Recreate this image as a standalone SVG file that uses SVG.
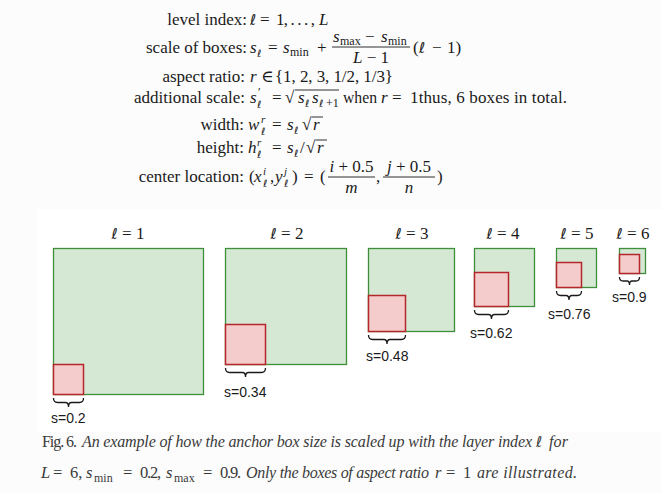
<svg xmlns="http://www.w3.org/2000/svg" width="662" height="493" viewBox="0 0 662 493">
<style>
.t{font-family:"Liberation Serif","DejaVu Serif",serif;font-size:17px;fill:#1a1a1a}
.i{font-style:italic}
.e{font-family:"DejaVu Serif","DejaVu Sans",serif;font-style:italic;font-size:15px}
.es{font-family:"DejaVu Serif","DejaVu Sans",serif;font-style:italic;font-size:10px}
.sub{font-size:12px}
.sup{font-size:11px;font-style:italic}
.cap{font-family:"Liberation Serif","DejaVu Serif",serif;font-size:16px;fill:#3a3a3a}
.cm{font-family:"Liberation Serif","DejaVu Serif",serif;font-size:16.5px;fill:#3a3a3a}
.lbl{font-family:"Liberation Sans",Arial,sans-serif;font-size:14px;fill:#1a1a1a}
.g{fill:#d5e8d4;stroke:#3f8f3a;stroke-width:1.3}
.r{fill:#f5cccc;stroke:#b3262a;stroke-width:1.5}
.br{fill:none;stroke:#1a1a1a;stroke-width:1.3}
.ln{stroke:#1a1a1a;stroke-width:0.9}
</style>
<rect width="662" height="493" fill="#fcfcfc"/>
<rect x="37" y="209" width="625" height="223" fill="#ffffff"/>

<g id="formulas">
<!-- line 1 -->
<text class="t" x="247" y="25" text-anchor="end">level index:</text>
<text class="t" y="25"><tspan x="250" class="e">ℓ</tspan><tspan x="260">=</tspan><tspan x="276" textLength="39" lengthAdjust="spacing">1, . . . ,</tspan><tspan x="319" class="i">L</tspan></text>

<!-- line 2 -->
<text class="t" x="247" y="53" text-anchor="end">scale of boxes:</text>
<text class="t" y="53"><tspan x="250" class="i">s</tspan><tspan x="257" y="57" class="es">ℓ</tspan><tspan x="268" y="53">=</tspan><tspan x="283" class="i">s</tspan><tspan x="290" y="56" class="sub">min</tspan><tspan x="317" y="53">+</tspan></text>
<text class="t" y="42"><tspan x="333" class="i">s</tspan><tspan x="340" y="45" class="sub">max</tspan><tspan x="365" y="42">−</tspan><tspan x="381" class="i">s</tspan><tspan x="388" y="45" class="sub">min</tspan></text>
<line class="ln" x1="332" y1="47" x2="410" y2="47"/>
<text class="t" x="371" y="63" text-anchor="middle"><tspan class="i">L</tspan> − 1</text>
<text class="t" y="53"><tspan x="413">(</tspan><tspan x="419" class="e">ℓ</tspan><tspan x="432">−</tspan><tspan x="447">1)</tspan></text>

<!-- line 3 -->
<text class="t" x="245" y="82" text-anchor="end">aspect ratio:</text>
<text class="t" y="82"><tspan x="250" class="i">r</tspan><tspan x="261">∈</tspan><tspan x="275" textLength="118" lengthAdjust="spacing">{1, 2, 3, 1/2, 1/3}</tspan></text>

<!-- line 4 -->
<text class="t" x="245" y="103" text-anchor="end">additional scale:</text>
<text class="t" y="103"><tspan x="250" class="i">s</tspan><tspan x="258" y="96" class="sub">′</tspan><tspan x="257" y="108" class="es">ℓ</tspan><tspan x="272" y="103">=</tspan><tspan x="285">√</tspan><tspan x="298" class="i">s</tspan><tspan x="305" y="107" class="es">ℓ</tspan><tspan x="312" y="103" class="i">s</tspan><tspan x="319" y="107" class="es">ℓ</tspan><tspan x="326" y="107" class="sub">+1</tspan><tspan x="343" y="103" textLength="34" lengthAdjust="spacingAndGlyphs">when</tspan><tspan x="381" class="i">r</tspan><tspan x="392">=</tspan><tspan x="410" textLength="157" lengthAdjust="spacing">1thus, 6 boxes in total.</tspan></text>
<line class="ln" x1="295" y1="90" x2="339" y2="90"/>

<!-- line 5 -->
<text class="t" x="244" y="130" text-anchor="end">width:</text>
<text class="t" y="130"><tspan x="248" class="i">w</tspan><tspan x="261" y="123" class="sup">r</tspan><tspan x="261" y="135" class="es">ℓ</tspan><tspan x="272" y="130">=</tspan><tspan x="287" class="i">s</tspan><tspan x="294" y="134" class="es">ℓ</tspan><tspan x="302" y="130">√</tspan><tspan x="313" class="i">r</tspan></text>
<line class="ln" x1="311.5" y1="117" x2="323" y2="117"/>

<!-- line 6 -->
<text class="t" x="244" y="153" text-anchor="end">height:</text>
<text class="t" y="153"><tspan x="248" class="i">h</tspan><tspan x="257" y="146" class="sup">r</tspan><tspan x="257" y="158" class="es">ℓ</tspan><tspan x="272" y="153">=</tspan><tspan x="287" class="i">s</tspan><tspan x="294" y="157" class="es">ℓ</tspan><tspan x="300" y="153">/</tspan><tspan x="306">√</tspan><tspan x="317" class="i">r</tspan></text>
<line class="ln" x1="315.5" y1="140" x2="327" y2="140"/>

<!-- line 7 -->
<text class="t" x="244" y="182" text-anchor="end">center location:</text>
<text class="t" y="182"><tspan x="249">(</tspan><tspan x="254" class="i">x</tspan><tspan x="263" y="175" class="sup">i</tspan><tspan x="263" y="187" class="es">ℓ</tspan><tspan x="270" y="182">,</tspan><tspan x="275" class="i">y</tspan><tspan x="284" y="175" class="sup">j</tspan><tspan x="284" y="187" class="es">ℓ</tspan><tspan x="292" y="182">)</tspan><tspan x="304">=</tspan><tspan x="320">(</tspan><tspan x="376">,</tspan><tspan x="437">)</tspan></text>
<text class="t" x="351.5" y="172" text-anchor="middle"><tspan class="i">i</tspan> + 0.5</text>
<line class="ln" x1="328" y1="177" x2="375" y2="177"/>
<text class="t i" x="351.5" y="193" text-anchor="middle">m</text>
<text class="t" x="409" y="172" text-anchor="middle"><tspan class="i">j</tspan> + 0.5</text>
<line class="ln" x1="383" y1="177" x2="435" y2="177"/>
<text class="t i" x="409" y="193" text-anchor="middle">n</text>
</g>

<g id="level1">
<text class="t" x="128" y="239" text-anchor="middle"><tspan class="e">ℓ</tspan> = 1</text>
<rect class="g" x="53.5" y="248.5" width="150" height="146"/>
<rect class="r" x="53.5" y="364.5" width="30" height="30"/>
<path class="br" d="M53.5 398 Q53.5 402.5 57.5 402.5 L65.5 402.5 Q68.5 402.5 68.5 407 Q68.5 402.5 71.5 402.5 L79.5 402.5 Q83.5 402.5 83.5 398"/>
<text class="lbl" x="51" y="423">s=0.2</text>
</g>

<g id="level2">
<text class="t" x="287" y="239" text-anchor="middle"><tspan class="e">ℓ</tspan> = 2</text>
<rect class="g" x="225.5" y="248.5" width="121" height="116"/>
<rect class="r" x="225.5" y="324.5" width="40" height="40"/>
<path class="br" d="M225.5 368 Q225.5 372.5 229.5 372.5 L242.5 372.5 Q245.5 372.5 245.5 377 Q245.5 372.5 248.5 372.5 L261.5 372.5 Q265.5 372.5 265.5 368"/>
<text class="lbl" x="224" y="397">s=0.34</text>
</g>

<g id="level3">
<text class="t" x="412" y="239" text-anchor="middle"><tspan class="e">ℓ</tspan> = 3</text>
<rect class="g" x="368.5" y="248.5" width="86" height="83"/>
<rect class="r" x="368.5" y="295.5" width="37" height="36"/>
<path class="br" d="M368.5 335 Q368.5 339.5 372.5 339.5 L384 339.5 Q387 339.5 387 344 Q387 339.5 390 339.5 L401.5 339.5 Q405.5 339.5 405.5 335"/>
<text class="lbl" x="366" y="361">s=0.48</text>
</g>

<g id="level4">
<text class="t" x="503" y="239" text-anchor="middle"><tspan class="e">ℓ</tspan> = 4</text>
<rect class="g" x="474.5" y="248.5" width="60" height="58"/>
<rect class="r" x="474.5" y="272.5" width="34" height="34"/>
<path class="br" d="M474.5 310 Q474.5 314.5 478.5 314.5 L488.5 314.5 Q491.5 314.5 491.5 319 Q491.5 314.5 494.5 314.5 L504.5 314.5 Q508.5 314.5 508.5 310"/>
<text class="lbl" x="470" y="338">s=0.62</text>
</g>

<g id="level5">
<text class="t" x="577" y="239" text-anchor="middle"><tspan class="e">ℓ</tspan> = 5</text>
<rect class="g" x="556.5" y="248.5" width="40" height="39"/>
<rect class="r" x="556.5" y="262.5" width="25" height="25"/>
<path class="br" d="M556.5 291 Q556.5 295.5 560.5 295.5 L566 295.5 Q569 295.5 569 300 Q569 295.5 572 295.5 L577.5 295.5 Q581.5 295.5 581.5 291"/>
<text class="lbl" x="548" y="319">s=0.76</text>
</g>

<g id="level6">
<text class="t" x="633" y="239" text-anchor="middle"><tspan class="e">ℓ</tspan> = 6</text>
<rect class="g" x="619.5" y="248.5" width="26" height="25"/>
<rect class="r" x="619.5" y="254.5" width="20" height="19"/>
<path class="br" d="M619.5 277 Q619.5 281 623 281 L627 281 Q629.5 281 629.5 285 Q629.5 281 632 281 L636 281 Q639.5 281 639.5 277"/>
<text class="lbl" x="612" y="302">s=0.9</text>
</g>

<g id="connectors"></g>

<g id="caption">
<text class="cap" y="447"><tspan x="42" textLength="35" lengthAdjust="spacing">Fig. 6.</tspan><tspan x="82" class="i" textLength="450" lengthAdjust="spacing">An example of how the anchor box size is scaled up with the layer index</tspan><tspan x="536" class="e" font-size="14">ℓ</tspan><tspan x="549" class="i" textLength="19" lengthAdjust="spacing">for</tspan></text>
<text class="cm" y="478"><tspan x="41" class="i">L</tspan><tspan x="53">=</tspan><tspan x="70">6,</tspan><tspan x="86" class="i">s</tspan><tspan x="94" y="482" font-size="12">min</tspan><tspan x="123" y="478">=</tspan><tspan x="140" textLength="21" lengthAdjust="spacing">0.2,</tspan><tspan x="166" class="i">s</tspan><tspan x="174" y="482" font-size="12">max</tspan><tspan x="203" y="478">=</tspan><tspan x="220" textLength="21" lengthAdjust="spacing">0.9.</tspan><tspan x="435" class="i">r</tspan><tspan x="446">=</tspan><tspan x="463">1</tspan></text>
<text class="cap i" y="478"><tspan x="246" textLength="183" lengthAdjust="spacing">Only the boxes of aspect ratio</tspan><tspan x="477" textLength="100" lengthAdjust="spacing">are illustrated.</tspan></text>
</g>
</svg>
